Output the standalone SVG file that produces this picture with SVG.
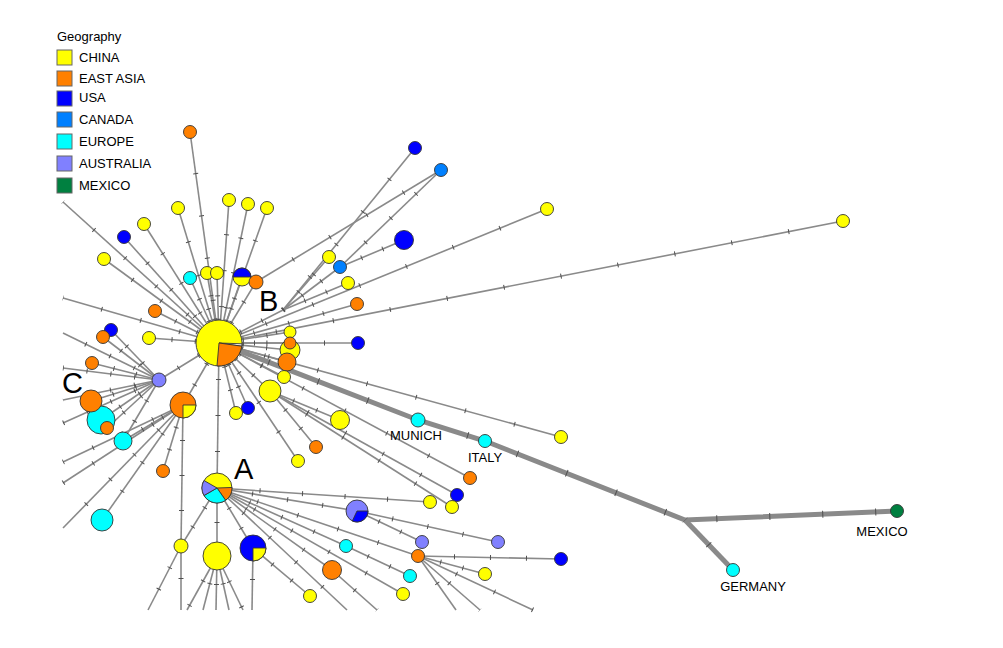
<svg xmlns="http://www.w3.org/2000/svg" width="1003" height="648" viewBox="0 0 1003 648">
<style>
.e{fill:none;stroke:#8a8a8a;stroke-width:1.6}
.tk{fill:none;stroke:#505050;stroke-width:5}
.th{fill:none;stroke:#8a8a8a;stroke-width:5}
.thk{fill:none;stroke:#505050;stroke-width:7}
.n circle,.n path{stroke:#333;stroke-width:0.9}
.Y{fill:#ffff00}.O{fill:#ff8000}.B{fill:#0000ff}.CA{fill:#0080ff}.E{fill:#00ffff}.AU{fill:#8080ff}.M{fill:#008040}.W{fill:#ffffff}
.sq{stroke:#666;stroke-width:1}
text{font-family:"Liberation Sans",Arial,sans-serif;fill:#000}
.lg{font-size:13px}
.lb{font-size:13px;text-anchor:middle}
.big{font-size:29px}
</style>
<g id="legend">
<text class="lg" x="57" y="41">Geography</text>
<rect class="sq Y" x="57" y="50" width="15" height="15"/><text class="lg" x="79" y="62">CHINA</text>
<rect class="sq O" x="57" y="71" width="15" height="15"/><text class="lg" x="79" y="83">EAST ASIA</text>
<rect class="sq B" x="57" y="91" width="15" height="15"/><text class="lg" x="79" y="102">USA</text>
<rect class="sq CA" x="57" y="112" width="15" height="15"/><text class="lg" x="79" y="124">CANADA</text>
<rect class="sq E" x="57" y="134" width="15" height="15"/><text class="lg" x="79" y="146">EUROPE</text>
<rect class="sq AU" x="57" y="156" width="15" height="15"/><text class="lg" x="79" y="168">AUSTRALIA</text>
<rect class="sq M" x="57" y="178" width="15" height="15"/><text class="lg" x="79" y="190">MEXICO</text>
</g>
<g id="connectors">
<g class="e">
<path d="M219 343L190 132"/><path d="M219 343L229 200"/><path d="M219 343L248 204"/><path d="M219 343L267 208"/>
<path d="M219 343L178 208"/><path d="M219 343L144 224"/><path d="M219 343L124 237"/><path d="M219 343L104 259"/>
<path d="M219 343L63 202"/><path d="M219 343L190 278"/><path d="M219 343L207 273"/><path d="M219 343L217 273"/>
<path d="M219 343L242 277"/><path d="M219 343L256 282"/><path d="M219 343L63 298"/><path d="M219 343L155 311"/>
<path d="M219 343L149 338"/><path d="M219 343L159 380"/><path d="M219 343L183 405"/><path d="M219 343L217 488"/>
<path d="M219 343L236 413"/><path d="M219 343L248 408"/><path d="M219 343L270 391"/><path d="M219 343L284 377"/>
<path d="M219 343L287 362"/><path d="M219 343L290 350"/><path d="M219 343L290 343"/><path d="M219 343L290 332"/>
<path d="M219 343L283 310"/><path d="M219 343L357 304"/><path d="M219 343L358 343"/><path d="M219 343L547 209"/>
<path d="M219 343L843 221"/><path d="M219 343L561 437"/><path d="M219 343L470 478"/><path d="M219 343L298 461"/>
<path d="M256 282L441 170"/><path d="M283 310L415 148"/><path d="M283 310L329 257"/><path d="M283 310L340 267"/>
<path d="M283 310L348 283"/><path d="M340 267L404 240"/><path d="M340 267L441 170"/>
<path d="M270 391L340 420"/><path d="M270 391L316 447"/><path d="M270 391L457 495"/><path d="M270 391L452 507"/>
<path d="M159 380L111 330"/><path d="M159 380L103 337"/><path d="M159 380L92 363"/><path d="M159 380L63 333"/>
<path d="M159 380L63 368"/><path d="M159 380L91 401"/><path d="M159 380L63 400"/><path d="M159 380L101 420"/>
<path d="M159 380L63 423"/><path d="M159 380L107 428"/><path d="M159 380L123 441"/>
<path d="M183 405L123 441"/><path d="M183 405L63 462"/><path d="M183 405L63 483"/><path d="M183 405L63 528"/>
<path d="M183 405L163 471"/><path d="M183 405L102 520"/><path d="M183 405L181 546"/>
<path d="M181 546L181 610"/><path d="M181 546L148 610"/>
<path d="M217 488L181 546"/><path d="M217 488L217 556"/><path d="M217 488L253 548"/><path d="M217 488L430 502"/>
<path d="M217 488L357 511"/><path d="M217 488L418 556"/><path d="M217 488L346 546"/><path d="M217 488L403 594"/>
<path d="M217 488L332 570"/><path d="M217 488L347 610"/>
<path d="M217 556L187 610"/><path d="M217 556L203 610"/><path d="M217 556L216 610"/><path d="M217 556L229 610"/><path d="M217 556L243 610"/>
<path d="M253 548L252 610"/><path d="M253 548L310 596"/>
<path d="M357 511L498 542"/><path d="M357 511L422 542"/><path d="M346 546L410 576"/><path d="M332 570L377 610"/>
<path d="M418 556L561 559"/><path d="M418 556L485 574"/><path d="M418 556L456 610"/><path d="M418 556L480 610"/><path d="M418 556L533 610"/>
</g>
<g class="tk">
<path d="M219 343L190 132" stroke-dasharray="1 41.6"/><path d="M219 343L229 200" stroke-dasharray="1 35"/><path d="M219 343L248 204" stroke-dasharray="1 34.5"/><path d="M219 343L267 208" stroke-dasharray="1 35"/>
<path d="M219 343L178 208" stroke-dasharray="1 34"/><path d="M219 343L144 224" stroke-dasharray="1 34"/><path d="M219 343L124 237" stroke-dasharray="1 34.5"/><path d="M219 343L104 259" stroke-dasharray="1 34.5"/>
<path d="M219 343L63 202" stroke-dasharray="1 41"/><path d="M219 343L190 278" stroke-dasharray="1 22.7"/><path d="M219 343L207 273" stroke-dasharray="1 22.7"/><path d="M219 343L217 273" stroke-dasharray="1 22.3"/>
<path d="M219 343L242 277" stroke-dasharray="1 22.3"/><path d="M219 343L256 282" stroke-dasharray="1 22.7"/><path d="M219 343L63 298" stroke-dasharray="1 39.5"/><path d="M219 343L155 311" stroke-dasharray="1 23"/>
<path d="M219 343L149 338" stroke-dasharray="1 22.3"/><path d="M219 343L159 380" stroke-dasharray="1 22.5"/><path d="M219 343L183 405" stroke-dasharray="1 23"/><path d="M219 343L217 488" stroke-dasharray="1 35"/>
<path d="M219 343L236 413" stroke-dasharray="1 23"/><path d="M219 343L248 408" stroke-dasharray="1 22.7"/><path d="M219 343L270 391" stroke-dasharray="1 22.3"/><path d="M219 343L284 377" stroke-dasharray="1 23"/>
<path d="M219 343L287 362" stroke-dasharray="1 22.5"/><path d="M219 343L290 350" stroke-dasharray="1 22.7"/><path d="M219 343L290 343" stroke-dasharray="1 22.7"/><path d="M219 343L290 332" stroke-dasharray="1 23"/>
<path d="M219 343L283 310" stroke-dasharray="1 23"/><path d="M219 343L357 304" stroke-dasharray="1 35"/><path d="M219 343L358 343" stroke-dasharray="1 34"/><path d="M219 343L547 209" stroke-dasharray="1 49.5"/>
<path d="M219 343L843 221" stroke-dasharray="1 57"/><path d="M219 343L561 437" stroke-dasharray="1 50"/><path d="M219 343L470 478" stroke-dasharray="1 46.5"/><path d="M219 343L298 461" stroke-dasharray="1 34.5"/>
<path d="M256 282L441 170" stroke-dasharray="1 42"/><path d="M283 310L415 148" stroke-dasharray="1 41"/><path d="M283 310L329 257" stroke-dasharray="1 22.3"/><path d="M283 310L340 267" stroke-dasharray="1 22.7"/>
<path d="M283 310L348 283" stroke-dasharray="1 22.3"/><path d="M340 267L404 240" stroke-dasharray="1 22"/><path d="M340 267L441 170" stroke-dasharray="1 34"/>
<path d="M270 391L340 420" stroke-dasharray="1 24"/><path d="M270 391L316 447" stroke-dasharray="1 23"/><path d="M270 391L457 495" stroke-dasharray="1 42"/><path d="M270 391L452 507" stroke-dasharray="1 42"/>
<path d="M159 380L111 330" stroke-dasharray="1 22"/><path d="M159 380L103 337" stroke-dasharray="1 22.7"/><path d="M159 380L92 363" stroke-dasharray="1 22"/><path d="M159 380L63 333" stroke-dasharray="1 26"/>
<path d="M159 380L63 368" stroke-dasharray="1 23"/><path d="M159 380L91 401" stroke-dasharray="1 22.7"/><path d="M159 380L63 400" stroke-dasharray="1 23.5"/><path d="M159 380L101 420" stroke-dasharray="1 22.3"/>
<path d="M159 380L63 423" stroke-dasharray="1 25"/><path d="M159 380L107 428" stroke-dasharray="1 22.7"/><path d="M159 380L123 441" stroke-dasharray="1 22.7"/>
<path d="M183 405L123 441" stroke-dasharray="1 22.3"/><path d="M183 405L63 462" stroke-dasharray="1 32"/><path d="M183 405L63 483" stroke-dasharray="1 34.5"/><path d="M183 405L63 528" stroke-dasharray="1 33.5"/>
<path d="M183 405L163 471" stroke-dasharray="1 22"/><path d="M183 405L102 520" stroke-dasharray="1 34"/><path d="M183 405L181 546" stroke-dasharray="1 34"/>
<path d="M181 546L181 610" stroke-dasharray="1 31"/><path d="M181 546L148 610" stroke-dasharray="1 23"/>
<path d="M217 488L181 546" stroke-dasharray="1 21.7"/><path d="M217 488L217 556" stroke-dasharray="1 33"/><path d="M217 488L253 548" stroke-dasharray="1 22.3"/><path d="M217 488L430 502" stroke-dasharray="1 41.6"/>
<path d="M217 488L357 511" stroke-dasharray="1 34.5"/><path d="M217 488L418 556" stroke-dasharray="1 41.4"/><path d="M217 488L346 546" stroke-dasharray="1 34.3"/><path d="M217 488L403 594" stroke-dasharray="1 41.8"/>
<path d="M217 488L332 570" stroke-dasharray="1 34.3"/><path d="M217 488L347 610" stroke-dasharray="1 35"/>
<path d="M217 556L187 610" stroke-dasharray="1 27"/><path d="M217 556L203 610" stroke-dasharray="1 27"/><path d="M217 556L216 610" stroke-dasharray="1 27"/><path d="M217 556L229 610" stroke-dasharray="1 27"/><path d="M217 556L243 610" stroke-dasharray="1 27"/>
<path d="M253 548L252 610" stroke-dasharray="1 30"/><path d="M253 548L310 596" stroke-dasharray="1 24"/>
<path d="M357 511L498 542" stroke-dasharray="1 35"/><path d="M357 511L422 542" stroke-dasharray="1 23"/><path d="M346 546L410 576" stroke-dasharray="1 23"/><path d="M332 570L377 610" stroke-dasharray="1 29"/>
<path d="M418 556L561 559" stroke-dasharray="1 35"/><path d="M418 556L485 574" stroke-dasharray="1 22"/><path d="M418 556L456 610" stroke-dasharray="1 32"/><path d="M418 556L480 610" stroke-dasharray="1 40"/><path d="M418 556L533 610" stroke-dasharray="1 41"/>
</g>
<path class="th" d="M219 343L418 420L485 441L685 520L897 511"/>
<path class="th" d="M733 570L685 520"/>
<path class="thk" d="M219 343L418 420L485 441L685 520L897 511" stroke-dasharray="1 52"/>
<path class="thk" d="M733 570L685 520" stroke-dasharray="1 33.5"/>
</g>
<g id="node-B" class="n">
<circle class="Y" cx="219" cy="343" r="23"/>
<path class="W" d="M219 343L241.99 343.8A23 23 0 0 1 241.78 346.2Z"/>
<path class="O" d="M219 343L241.78 346.2A23 23 0 0 1 217 365.91Z"/>
</g>
<g id="node-A" class="n">
<circle class="Y" cx="217" cy="488" r="15"/>
<path class="O" d="M217 488L231.99 487.48A15 15 0 0 1 225.6 500.29Z"/>
<path class="E" d="M217 488L225.6 500.29A15 15 0 0 1 204.01 495.5Z"/>
<path class="AU" d="M217 488L204.01 495.5A15 15 0 0 1 204.01 480.5Z"/>
</g>
<g id="node-C" class="n"><circle class="AU" cx="159" cy="380" r="7"/></g>
<g id="node-oy" class="n"><circle class="O" cx="183" cy="405" r="13"/><path class="Y" d="M183 405L196 405A13 13 0 0 1 183 418Z"/></g>
<g id="node-by" class="n"><circle class="B" cx="253" cy="548" r="13"/><path class="Y" d="M253 548L266 548A13 13 0 0 1 253 561Z"/></g>
<g id="node-half" class="n"><circle class="Y" cx="242" cy="277" r="9"/><path class="B" d="M233 277A9 9 0 0 1 251 277Z"/></g>
<g id="node-lb" class="n"><circle class="AU" cx="357" cy="511" r="11"/><path class="B" d="M357 511L368 511A11 11 0 0 1 352.35 520.97Z"/></g>
<g id="nodes-top" class="n">
<circle class="O" cx="190" cy="132" r="6.5"/><circle class="Y" cx="229" cy="200" r="6.5"/><circle class="Y" cx="248" cy="204" r="6.5"/><circle class="Y" cx="267" cy="208" r="6.5"/>
<circle class="Y" cx="178" cy="208" r="6.5"/><circle class="Y" cx="144" cy="224" r="6.5"/><circle class="B" cx="124" cy="237" r="6.5"/><circle class="Y" cx="104" cy="259" r="6.5"/>
<circle class="E" cx="190" cy="278" r="6.5"/><circle class="Y" cx="207" cy="273" r="6.5"/><circle class="Y" cx="217" cy="273" r="6.5"/><circle class="O" cx="256" cy="282" r="7"/>
</g>
<g id="nodes-left" class="n">
<circle class="O" cx="155" cy="311" r="6.5"/><circle class="B" cx="111" cy="330" r="6.5"/><circle class="O" cx="103" cy="337" r="6.5"/><circle class="Y" cx="149" cy="338" r="6.5"/>
<circle class="O" cx="92" cy="363" r="6.5"/><circle class="E" cx="101" cy="420" r="14"/><circle class="O" cx="91" cy="401" r="11"/><circle class="O" cx="107" cy="428" r="6.5"/>
<circle class="E" cx="123" cy="441" r="9"/><circle class="O" cx="163" cy="471" r="6.5"/><circle class="E" cx="102" cy="520" r="11"/>
</g>
<g id="nodes-bottom" class="n">
<circle class="Y" cx="181" cy="546" r="7"/><circle class="Y" cx="217" cy="556" r="14"/>
<circle class="Y" cx="430" cy="502" r="6.5"/><circle class="AU" cx="422" cy="542" r="6.5"/><circle class="AU" cx="498" cy="542" r="6.5"/>
<circle class="E" cx="346" cy="546" r="6.5"/><circle class="O" cx="418" cy="556" r="6.5"/><circle class="B" cx="561" cy="559" r="6.5"/>
<circle class="Y" cx="485" cy="574" r="6.5"/><circle class="E" cx="410" cy="576" r="6.5"/><circle class="O" cx="332" cy="570" r="9.5"/>
<circle class="Y" cx="403" cy="594" r="6.5"/><circle class="Y" cx="310" cy="596" r="6.5"/>
</g>
<g id="nodes-right" class="n">
<circle class="Y" cx="290" cy="350" r="10"/><circle class="Y" cx="290" cy="332" r="6"/><circle class="O" cx="290" cy="343" r="6"/>
<circle class="O" cx="287" cy="362" r="9"/><circle class="Y" cx="284" cy="377" r="6.5"/><circle class="Y" cx="270" cy="391" r="11"/>
<circle class="Y" cx="236" cy="413" r="6.5"/><circle class="B" cx="248" cy="408" r="6.5"/>
<circle class="Y" cx="340" cy="420" r="9.5"/><circle class="O" cx="316" cy="447" r="6.5"/><circle class="Y" cx="298" cy="461" r="6.5"/>
<circle class="B" cx="358" cy="343" r="6.5"/><circle class="O" cx="357" cy="304" r="6.5"/><circle class="Y" cx="348" cy="283" r="6.5"/>
<circle class="Y" cx="329" cy="257" r="6.5"/><circle class="CA" cx="340" cy="267" r="6.5"/><circle class="B" cx="404" cy="240" r="9.5"/>
<circle class="B" cx="415" cy="148" r="6.5"/><circle class="CA" cx="441" cy="170" r="6.5"/><circle class="Y" cx="547" cy="209" r="6.5"/>
<circle class="Y" cx="843" cy="221" r="6.5"/><circle class="Y" cx="561" cy="437" r="6.5"/>
<circle class="O" cx="470" cy="478" r="6.5"/><circle class="B" cx="457" cy="495" r="6.5"/><circle class="Y" cx="452" cy="507" r="6.5"/>
</g>
<g id="node-munich" class="n"><circle class="E" cx="418" cy="420" r="7"/><text class="lb" x="416" y="440">MUNICH</text></g>
<g id="node-italy" class="n"><circle class="E" cx="485" cy="441" r="6.5"/><text class="lb" x="485" y="462">ITALY</text></g>
<g id="node-germany" class="n"><circle class="E" cx="733" cy="570" r="6.5"/><text class="lb" x="753" y="591">GERMANY</text></g>
<g id="node-mexico" class="n"><circle class="M" cx="897" cy="511" r="6.5"/><text class="lb" x="882" y="536">MEXICO</text></g>
<g id="labels">
<text class="big" x="259" y="311">B</text>
<text class="big" x="234" y="479">A</text>
<text class="big" x="62" y="393">C</text>
</g>
</svg>
